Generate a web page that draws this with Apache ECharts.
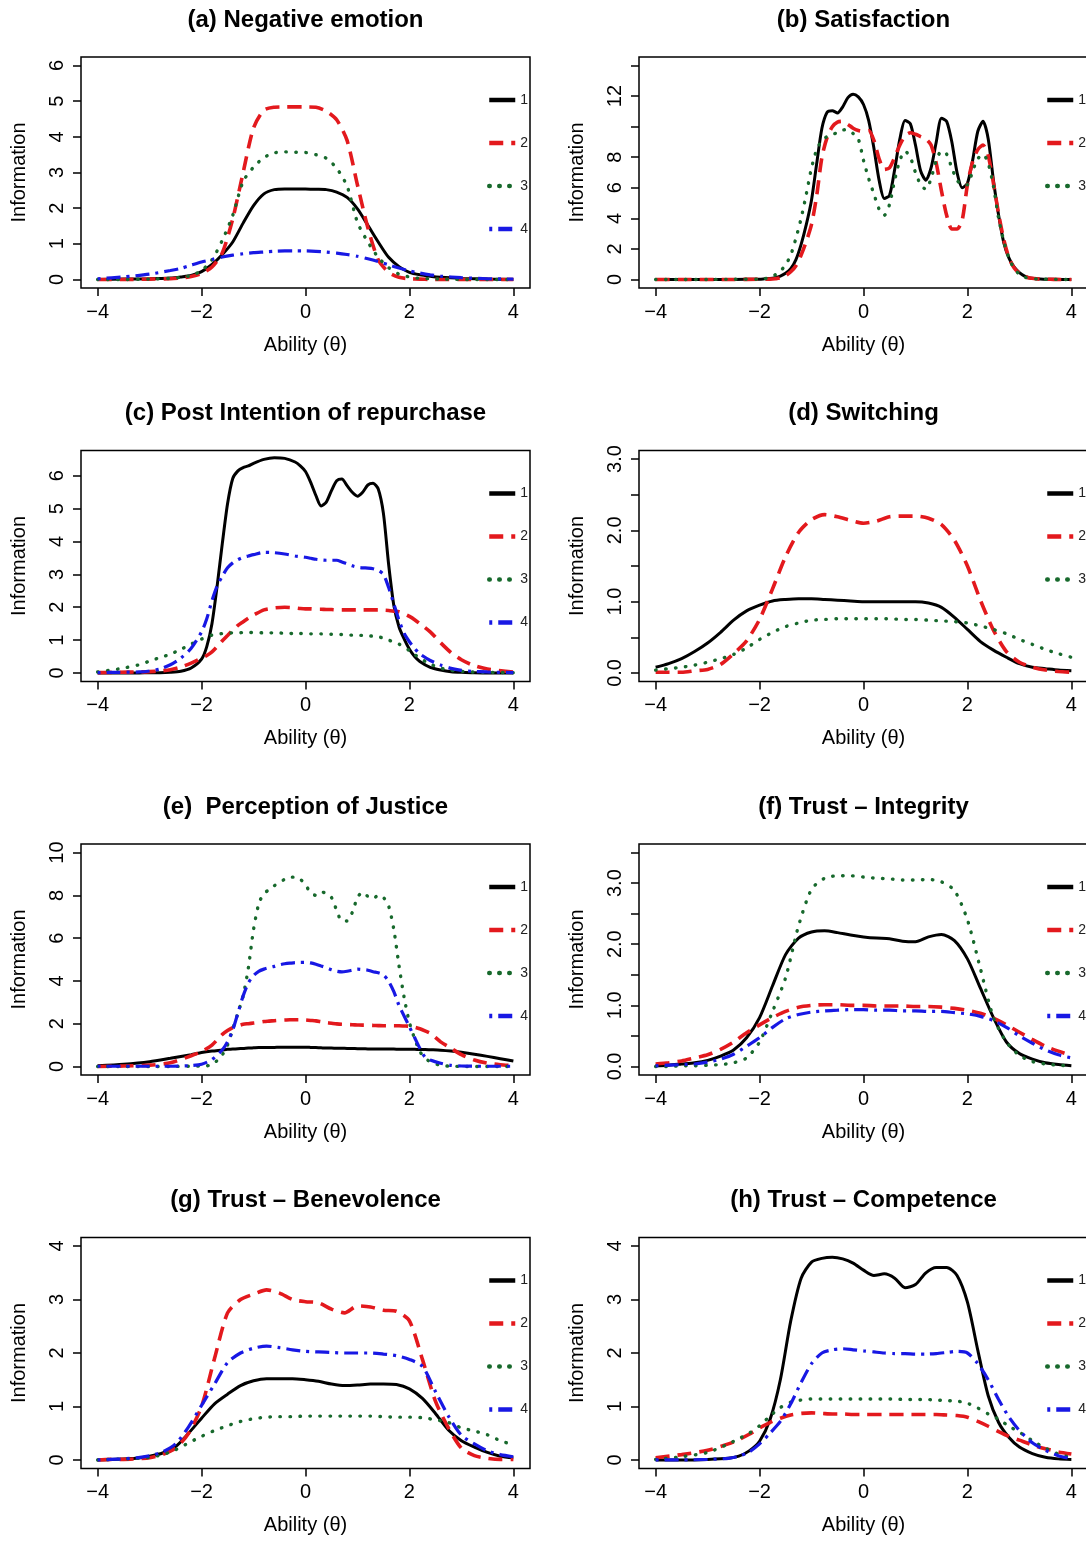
<!DOCTYPE html>
<html>
<head>
<meta charset="utf-8">
<script src="https://cdn.jsdelivr.net/npm/echarts@6/dist/echarts.min.js"></script>
<style>
html,body{margin:0;padding:0;background:#ffffff;}
#chart{width:1086px;height:1541px;}
</style>
</head>
<body>
<div id="chart"></div>
<script>
// ---------------- DATA ----------------
const titles = [
  '(a) Negative emotion', '(b) Satisfaction',
  '(c) Post Intention of repurchase', '(d) Switching',
  '(e)  Perception of Justice', '(f) Trust \u2013 Integrity',
  '(g) Trust \u2013 Benevolence', '(h) Trust \u2013 Competence'
];
const xTitle = 'Ability (\u03b8)';
const yTitle = 'Information';
const xTicks = [-4, -2, 0, 2, 4];

const yTicksA = [0, 1, 2, 3, 4, 5, 6];
const yTicksB = [0, 2, 4, 6, 8, 10, 12, 14];
const yLabelsB = [0, 2, 4, 6, 8, 12];
const yTicksC = [0, 1, 2, 3, 4, 5, 6];
const yTicksD = [0, 0.5, 1, 1.5, 2, 2.5, 3];
const yLabelsD = [0, 1, 2, 3];
const yTicksE = [0, 2, 4, 6, 8, 10];
const yTicksF = [0, 0.5, 1, 1.5, 2, 2.5, 3, 3.5];
const yLabelsF = [0, 1, 2, 3];
const yTicksGH = [0, 1, 2, 3, 4];

// (a) Negative emotion
const thetaA = [-4,-3.5,-3,-2.6,-2.4,-2.2,-2,-1.8,-1.6,-1.4,-1.2,-1,-0.8,-0.6,-0.4,-0.2,0,0.2,0.4,0.6,0.8,1,1.2,1.4,1.6,1.8,2,2.2,2.4,2.6,3,3.5,4];
const negEmotion1 = [0,0.01,0.02,0.04,0.07,0.11,0.22,0.42,0.7,1.05,1.58,2.07,2.4,2.52,2.54,2.54,2.54,2.53,2.52,2.45,2.3,1.98,1.52,1.05,0.62,0.36,0.2,0.13,0.09,0.06,0.03,0.01,0];
const negEmotion2 = [0,0,0.01,0.02,0.04,0.08,0.17,0.35,0.75,1.7,3.0,4.25,4.75,4.83,4.84,4.84,4.84,4.83,4.72,4.48,3.9,2.65,1.45,0.55,0.2,0.06,0.02,0.01,0,0,0,0,0];
const negEmotion3 = [0,0,0.01,0.03,0.06,0.11,0.25,0.55,1.1,1.8,2.75,3.15,3.42,3.55,3.58,3.57,3.56,3.5,3.4,3.12,2.62,1.6,1.05,0.62,0.33,0.15,0.07,0.03,0.02,0.01,0,0,0];
const negEmotion4 = [0.02,0.07,0.15,0.25,0.31,0.4,0.49,0.56,0.63,0.68,0.72,0.75,0.77,0.79,0.8,0.8,0.8,0.79,0.77,0.74,0.7,0.65,0.58,0.5,0.41,0.32,0.24,0.18,0.13,0.09,0.05,0.02,0.01];

// (b) Satisfaction
const thetaB = [-4,-3.5,-3,-2.5,-2,-1.9,-1.8,
  -1.7,-1.6,-1.5,-1.4,-1.3,-1.2,-1.1,-1,-0.9,-0.8,
  -0.7,-0.6,-0.5,-0.4,-0.3,-0.2,-0.1,0,0.1,0.2,
  0.3,0.4,0.5,0.6,0.7,0.8,0.9,1,1.1,1.2,
  1.3,1.4,1.5,1.6,1.7,1.8,1.9,2,2.1,2.2,
  2.3,2.4,2.5,2.6,2.7,2.8,2.9,3,3.1,3.2,
  3.4,3.6,3.8,4];
const satisfaction1 = [0,0,0,0,0.02,0.04,0.06,
  0.12,0.22,0.4,0.7,1.3,2.3,3.6,5.2,7.6,9.9,
  10.95,11.05,10.9,11.3,11.9,12.13,11.95,11.45,10.4,8.6,
  6.5,5.3,5.5,7.2,9.2,10.4,10.2,8.8,7.1,6.5,
  7.3,9.0,10.55,10.35,9.0,7.0,6.0,6.3,7.8,9.7,
  10.35,9.2,6.5,4.2,2.4,1.4,0.8,0.45,0.22,0.1,
  0.03,0.01,0,0];
const satisfaction2 = [0,0,0,0,0.01,0.01,0.02,
  0.05,0.1,0.25,0.5,0.9,1.6,2.5,3.6,5.5,8.0,
  9.3,10.0,10.3,10.35,10.15,9.9,9.75,9.7,9.75,9.1,
  7.9,7.2,7.3,8.0,8.8,9.4,9.6,9.5,9.35,9.2,
  8.8,7.6,5.8,4.2,3.3,3.3,3.9,6.2,7.7,8.5,
  8.8,8.1,6.3,4.3,2.6,1.4,0.75,0.4,0.2,0.09,
  0.02,0.01,0,0];
const satisfaction3 = [0,0,0,0.01,0.02,0.05,0.12,
  0.3,0.55,0.95,1.6,2.7,4.0,5.6,7.3,8.5,9.1,
  9.35,9.5,9.6,9.78,9.8,9.55,9.2,7.8,6.6,5.6,
  4.6,4.2,4.9,6.5,7.8,8.4,8.0,7.0,6.2,5.9,
  6.6,7.8,8.4,8.2,7.3,6.5,6.2,6.2,7.1,7.9,
  8.2,7.6,6.1,4.0,2.5,1.4,0.7,0.35,0.15,0.07,
  0.02,0.01,0,0];

// (c) Post intention of repurchase
const thetaC = [-4,-3.6,-3.2,-3,-2.8,-2.6,-2.4,-2.2,
  -2,-1.9,-1.8,-1.7,-1.6,-1.5,-1.4,-1.3,-1.2,-1.1,-1,
  -0.8,-0.6,-0.4,-0.2,
  -0.1,0,0.1,0.2,0.3,0.4,0.5,0.6,0.7,0.8,
  0.9,1,1.1,1.2,1.3,1.4,1.5,1.6,1.7,1.8,
  1.9,2,2.1,2.2,
  2.4,2.6,2.8,3,3.2,3.5,4];
const repurchase1 = [0,0,0,0.01,0.01,0.02,0.05,0.15,
  0.42,0.8,1.5,2.65,3.95,5.15,5.92,6.15,6.25,6.3,6.38,
  6.5,6.55,6.53,6.42,
  6.3,6.13,5.8,5.4,5.08,5.2,5.55,5.85,5.9,5.7,
  5.5,5.38,5.5,5.72,5.77,5.6,4.85,3.3,2.05,1.4,
  1.03,0.72,0.5,0.35,
  0.17,0.09,0.04,0.02,0.01,0,0];
const repurchase2 = [0.01,0.02,0.03,0.04,0.06,0.1,0.18,0.3,
  0.45,0.53,0.64,0.8,0.98,1.14,1.3,1.45,1.56,1.67,1.76,
  1.92,1.98,2.0,1.98,
  1.96,1.95,1.95,1.94,1.94,1.93,1.93,1.92,1.92,1.92,
  1.92,1.92,1.92,1.92,1.92,1.92,1.91,1.9,1.88,1.86,
  1.8,1.72,1.62,1.5,
  1.25,0.92,0.62,0.4,0.25,0.12,0.03];
const repurchase3 = [0.03,0.12,0.25,0.36,0.47,0.57,0.72,0.88,
  1.03,1.1,1.15,1.18,1.2,1.21,1.22,1.22,1.23,1.23,1.23,
  1.22,1.22,1.21,1.2,
  1.2,1.2,1.19,1.19,1.19,1.18,1.18,1.17,1.17,1.16,
  1.15,1.15,1.14,1.13,1.12,1.1,1.06,1.0,0.94,0.88,
  0.78,0.68,0.56,0.45,
  0.27,0.15,0.08,0.05,0.03,0.02,0.01];
const repurchase4 = [0.01,0.02,0.03,0.06,0.12,0.25,0.45,0.75,
  1.25,1.65,2.2,2.65,2.95,3.2,3.35,3.45,3.52,3.56,3.6,
  3.67,3.66,3.62,3.56,
  3.54,3.52,3.49,3.46,3.44,3.43,3.43,3.43,3.38,3.32,
  3.26,3.22,3.2,3.19,3.17,3.12,3.0,2.6,2.1,1.6,
  1.2,0.95,0.75,0.58,
  0.38,0.24,0.14,0.08,0.05,0.03,0.01];

// shared quarter-step grid for (d), (f), (g)
const thetaQ = [-4,-3.75,-3.5,-3.25,-3,-2.75,-2.5,-2.25,-2,-1.75,-1.5,-1.25,-1,-0.75,-0.5,-0.25,0,0.25,0.5,0.75,1,1.25,1.5,1.75,2,2.25,2.5,2.75,3,3.25,3.5,3.75,4];

// (d) Switching
const switching1 = [0.08,0.13,0.2,0.3,0.42,0.57,0.74,0.87,0.95,1.01,1.03,1.04,1.04,1.03,1.02,1.01,1.0,1.0,1.0,1.0,1.0,0.98,0.92,0.78,0.61,0.44,0.32,0.22,0.13,0.08,0.06,0.04,0.03];
const switching2 = [0.01,0.01,0.01,0.03,0.05,0.12,0.27,0.45,0.75,1.18,1.63,1.97,2.15,2.22,2.19,2.14,2.1,2.13,2.19,2.2,2.2,2.17,2.08,1.86,1.5,1.02,0.6,0.3,0.15,0.08,0.04,0.02,0.01];
const switching3 = [0.04,0.06,0.08,0.11,0.15,0.2,0.26,0.35,0.47,0.57,0.65,0.7,0.74,0.75,0.76,0.76,0.76,0.76,0.76,0.75,0.75,0.74,0.73,0.72,0.7,0.66,0.61,0.55,0.47,0.4,0.33,0.27,0.22];

// (e) Perception of justice
const thetaE = [-4,-3.5,-3,-2.6,-2.2,-2,-1.8,
  -1.6,-1.5,-1.4,-1.3,-1.2,-1.1,-1,-0.9,-0.8,-0.7,
  -0.6,-0.5,-0.4,-0.3,-0.2,-0.1,0,0.1,0.2,0.3,
  0.4,0.5,0.6,0.7,0.8,0.9,1,1.1,1.2,1.3,
  1.4,1.5,1.6,1.7,1.8,1.9,2,2.1,2.2,2.3,
  2.4,
  2.6,2.8,3,3.25,3.5,3.75,4];
const justice1 = [0.03,0.1,0.22,0.38,0.55,0.65,0.72,
  0.77,0.8,0.81,0.83,0.84,0.86,0.87,0.88,0.88,0.89,
  0.89,0.9,0.9,0.9,0.9,0.9,0.9,0.89,0.88,0.87,
  0.86,0.86,0.85,0.85,0.84,0.84,0.83,0.83,0.82,0.82,
  0.81,0.81,0.81,0.81,0.8,0.8,0.8,0.8,0.79,0.79,
  0.78,
  0.76,0.72,0.66,0.57,0.47,0.36,0.25];
const justice2 = [0,0.02,0.06,0.17,0.5,0.7,1.0,
  1.5,1.68,1.82,1.9,1.97,2.0,2.03,2.06,2.1,2.12,
  2.14,2.16,2.17,2.18,2.18,2.18,2.17,2.15,2.13,2.09,
  2.05,2.02,1.99,1.97,1.96,1.95,1.94,1.93,1.93,1.92,
  1.91,1.9,1.9,1.9,1.9,1.89,1.88,1.83,1.76,1.66,
  1.55,
  1.15,0.85,0.55,0.3,0.15,0.08,0.04];
const justice3 = [0,0,0,0,0.01,0.02,0.08,
  0.55,1.0,1.75,2.5,3.3,4.6,6.4,7.6,8.1,8.25,
  8.45,8.6,8.75,8.85,8.85,8.75,8.5,8.1,8.0,8.15,
  8.1,7.9,7.3,6.8,6.8,7.2,7.9,8.15,7.95,7.85,
  8.0,7.9,7.5,6.4,4.7,3.2,2.05,1.3,0.7,0.4,
  0.22,
  0.05,0.01,0,0,0,0,0];
const justice4 = [0.01,0.01,0.01,0.01,0.04,0.1,0.32,
  0.78,1.15,1.7,2.5,3.3,3.9,4.25,4.45,4.55,4.62,
  4.68,4.75,4.8,4.83,4.85,4.87,4.87,4.84,4.78,4.7,
  4.62,4.52,4.45,4.42,4.45,4.5,4.55,4.53,4.5,4.43,
  4.38,4.28,3.98,3.5,2.85,2.35,1.85,1.35,0.85,0.43,
  0.3,
  0.15,0.05,0.02,0.01,0.01,0.01,0.01];

// (f) Trust - Integrity
const integrity1 = [0.01,0.02,0.04,0.06,0.1,0.17,0.27,0.47,0.8,1.32,1.83,2.1,2.2,2.22,2.19,2.15,2.12,2.1,2.09,2.05,2.04,2.12,2.16,2.06,1.76,1.28,0.8,0.4,0.21,0.12,0.06,0.03,0.01];
const integrity2 = [0.04,0.06,0.09,0.14,0.19,0.28,0.4,0.55,0.68,0.8,0.9,0.97,1.0,1.01,1.01,1.0,1.0,0.99,0.99,0.99,0.98,0.98,0.97,0.95,0.92,0.87,0.79,0.68,0.56,0.44,0.33,0.25,0.18];
const integrity3 = [0,0,0.01,0.01,0.02,0.03,0.06,0.14,0.4,0.9,1.45,2.3,2.9,3.08,3.12,3.12,3.1,3.08,3.07,3.05,3.05,3.06,3.02,2.88,2.4,1.6,0.8,0.4,0.18,0.08,0.04,0.02,0.01];
const integrity4 = [0.01,0.02,0.03,0.04,0.07,0.12,0.2,0.33,0.47,0.64,0.78,0.85,0.89,0.91,0.92,0.93,0.93,0.92,0.92,0.91,0.91,0.9,0.9,0.88,0.86,0.82,0.75,0.64,0.5,0.38,0.27,0.19,0.14];

// (g) Trust - Benevolence
const benevolence1 = [0,0.01,0.02,0.03,0.07,0.13,0.25,0.5,0.78,1.05,1.23,1.39,1.48,1.52,1.52,1.52,1.5,1.47,1.42,1.39,1.4,1.42,1.42,1.41,1.33,1.15,0.87,0.56,0.36,0.24,0.14,0.07,0.04];
const benevolence2 = [0,0.01,0.01,0.02,0.04,0.1,0.22,0.5,1.0,1.9,2.75,3.0,3.1,3.18,3.12,3.0,2.96,2.94,2.82,2.75,2.88,2.86,2.8,2.78,2.6,1.88,1.1,0.6,0.22,0.08,0.03,0.01,0.01];
const benevolence3 = [0,0.01,0.02,0.03,0.05,0.1,0.19,0.32,0.44,0.55,0.64,0.72,0.77,0.8,0.81,0.81,0.82,0.82,0.82,0.82,0.82,0.82,0.81,0.8,0.8,0.79,0.75,0.7,0.6,0.54,0.47,0.36,0.28];
const benevolence4 = [0,0.01,0.02,0.04,0.08,0.15,0.3,0.62,1.02,1.42,1.82,2.0,2.09,2.13,2.1,2.06,2.03,2.02,2.01,2.0,2.0,2.0,1.98,1.95,1.88,1.75,1.28,0.82,0.46,0.3,0.17,0.1,0.06];

// (h) Trust - Competence
const thetaH = [-4,-3.5,-3,-2.6,-2.4,-2.2,-2,-1.8,-1.6,-1.4,-1.2,-1,-0.8,-0.6,-0.4,-0.2,0,0.2,0.4,0.6,0.8,1,1.2,1.4,1.6,1.8,2,2.2,2.4,2.6,2.8,3,3.25,3.5,3.75,4];
const competence1 = [0,0,0.01,0.03,0.07,0.17,0.35,0.75,1.5,2.6,3.4,3.7,3.77,3.79,3.76,3.68,3.55,3.45,3.48,3.4,3.22,3.28,3.5,3.6,3.6,3.45,2.95,2.05,1.2,0.7,0.42,0.24,0.12,0.05,0.02,0.01];
const competence2 = [0.04,0.1,0.18,0.3,0.38,0.48,0.6,0.7,0.78,0.84,0.87,0.88,0.87,0.86,0.86,0.85,0.85,0.85,0.85,0.85,0.85,0.85,0.85,0.85,0.84,0.83,0.8,0.72,0.63,0.53,0.44,0.37,0.28,0.21,0.15,0.11];
const competence3 = [0.01,0.06,0.14,0.3,0.4,0.5,0.64,0.82,0.98,1.08,1.12,1.14,1.14,1.14,1.14,1.14,1.14,1.14,1.14,1.14,1.13,1.13,1.13,1.12,1.11,1.1,1.06,0.97,0.86,0.76,0.63,0.52,0.36,0.22,0.11,0.04];
const competence4 = [0,0,0.01,0.03,0.07,0.15,0.3,0.5,0.72,1.05,1.45,1.8,2.0,2.06,2.08,2.06,2.04,2.02,2.0,1.99,1.99,1.98,1.98,1.99,2.01,2.03,2.0,1.8,1.5,1.13,0.8,0.55,0.32,0.18,0.08,0.02];

// ---------------- PANEL CONFIG ----------------
const fmtInt = v => String(v);
const fmtOne = v => v.toFixed(1);
const panels = [
  {key:'a', theta: thetaA, vals:[negEmotion1,negEmotion2,negEmotion3,negEmotion4], yMin:-0.24, yMax:6.24, ticks:yTicksA, labels:yTicksA, fmt:fmtInt},
  {key:'b', theta: thetaB, vals:[satisfaction1,satisfaction2,satisfaction3], yMin:-0.56, yMax:14.56, ticks:yTicksB, labels:yLabelsB, fmt:fmtInt},
  {key:'c', theta: thetaC, vals:[repurchase1,repurchase2,repurchase3,repurchase4], yMin:-0.26, yMax:6.77, ticks:yTicksC, labels:yTicksC, fmt:fmtInt},
  {key:'d', theta: thetaQ, vals:[switching1,switching2,switching3], yMin:-0.12, yMax:3.12, ticks:yTicksD, labels:yLabelsD, fmt:fmtOne},
  {key:'e', theta: thetaE, vals:[justice1,justice2,justice3,justice4], yMin:-0.4, yMax:10.4, ticks:yTicksE, labels:yTicksE, fmt:fmtInt},
  {key:'f', theta: thetaQ, vals:[integrity1,integrity2,integrity3,integrity4], yMin:-0.14, yMax:3.64, ticks:yTicksF, labels:yLabelsF, fmt:fmtOne},
  {key:'g', theta: thetaQ, vals:[benevolence1,benevolence2,benevolence3,benevolence4], yMin:-0.16, yMax:4.16, ticks:yTicksGH, labels:yTicksGH, fmt:fmtInt},
  {key:'h', theta: thetaH, vals:[competence1,competence2,competence3,competence4], yMin:-0.16, yMax:4.16, ticks:yTicksGH, labels:yTicksGH, fmt:fmtInt}
];

// ---------------- STYLE / LAYOUT ----------------
const FONT = '"Liberation Sans", Arial, Helvetica, sans-serif';
const COLORS = ['#000000', '#e3191d', '#17692c', '#1818e4'];
const DASH = ['solid', [14, 8], [0.5, 9.5], [3, 6, 14, 6]];
const WIDTH = [3, 3.6, 3.4, 3.2];
const CAP = ['butt', 'butt', 'round', 'butt'];
const COL_LEFT = [81, 639];
const ROW_TOP = [57, 450.5, 844, 1237.5];
const GW = 449, GH = 231;

const fmtX = v => (v < 0 ? '\u2212' + Math.abs(v) : String(v));

const grids = [], xAxes = [], yAxes = [], series = [], legends = [], graphics = [];
panels.forEach((p, i) => {
  const left = COL_LEFT[i % 2];
  const top = ROW_TOP[Math.floor(i / 2)];
  grids.push({left: left, top: top, width: GW, height: GH, show: true,
    borderColor: '#000', borderWidth: 1.5, backgroundColor: 'transparent',
    containLabel: false, outerBoundsMode: 'none'});
  xAxes.push({type: 'value', gridIndex: i, min: -4.32, max: 4.32,
    name: xTitle, nameLocation: 'middle', nameGap: 47,
    nameTextStyle: {fontSize: 20, fontFamily: FONT, color: '#000'},
    axisLine: {show: false, onZero: false},
    axisTick: {show: true, length: 8, customValues: xTicks, lineStyle: {color: '#000', width: 1.5}},
    axisLabel: {customValues: xTicks, formatter: fmtX, fontSize: 20, fontFamily: FONT, color: '#000', margin: 14},
    splitLine: {show: false}});
  yAxes.push({type: 'value', gridIndex: i, min: p.yMin, max: p.yMax,
    name: yTitle, nameLocation: 'middle', nameGap: 52, nameRotate: 90,
    nameTextStyle: {fontSize: 20, fontFamily: FONT, color: '#000'},
    axisLine: {show: false, onZero: false},
    axisTick: {show: true, length: 8, customValues: p.ticks, lineStyle: {color: '#000', width: 1.5}},
    axisLabel: {customValues: p.labels, formatter: p.fmt, rotate: 90, fontSize: 20, fontFamily: FONT, color: '#000', margin: 14},
    splitLine: {show: false}});
  const names = [];
  p.vals.forEach((vals, j) => {
    const name = p.key + (j + 1);
    names.push(name);
    series.push({type: 'line', name: name, xAxisIndex: i, yAxisIndex: i,
      data: p.theta.map((t, k) => [t, vals[k]]),
      symbol: 'none', showSymbol: false, smooth: 0.25, silent: true,
      lineStyle: {color: COLORS[j], width: WIDTH[j], type: DASH[j], cap: CAP[j]},
      itemStyle: {color: COLORS[j]}});
  });
  legends.push({data: names, orient: 'vertical', left: left + 406, top: top + 36,
    padding: 0, itemWidth: 26, itemHeight: 14, itemGap: 29, selectedMode: false,
    formatter: n => n.slice(1),
    itemStyle: {opacity: 0},
    lineStyle: {width: 4.5},
    textStyle: {fontSize: 14, lineHeight: 14, color: '#222', fontFamily: FONT}});
  graphics.push({type: 'text', x: left + GW / 2, y: top - 37,
    style: {text: titles[i], fontSize: 24, fontWeight: 'bold', fontFamily: FONT, fill: '#000',
      align: 'center', verticalAlign: 'middle', textAlign: 'center', textVerticalAlign: 'middle'}});
});

const chart = echarts.init(document.getElementById('chart'), null, {renderer: 'canvas'});
chart.setOption({
  animation: false,
  backgroundColor: '#ffffff',
  grid: grids, xAxis: xAxes, yAxis: yAxes, series: series, legend: legends,
  graphic: graphics
});
</script>
</body>
</html>
